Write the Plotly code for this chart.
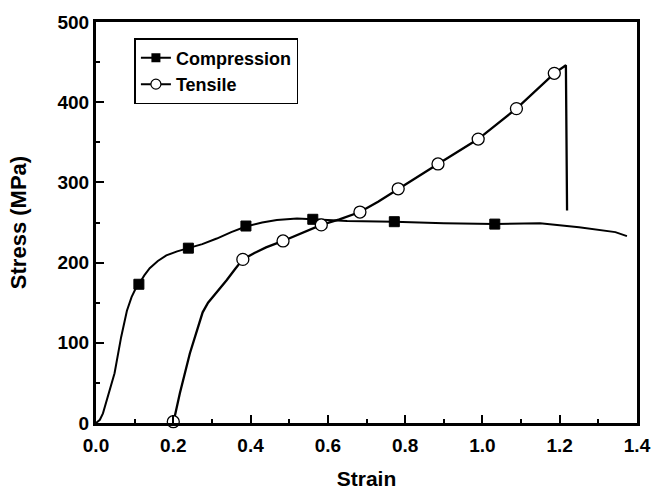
import plotly.graph_objects as go

# Compression curve (strain, stress MPa)
comp_x = [0, 0.01, 0.018, 0.031, 0.048, 0.065, 0.08, 0.092, 0.102, 0.111, 0.125, 0.139,
          0.16, 0.182, 0.21, 0.239, 0.275, 0.3125, 0.35, 0.388, 0.43, 0.468, 0.52, 0.561,
          0.65, 0.772, 0.9, 1.032, 1.149, 1.25, 1.344, 1.374]
comp_y = [0, 4, 12, 33, 62, 107, 140, 157, 167, 173, 184, 193,
          202, 209, 214, 218, 223, 230, 238, 245, 250, 253, 255, 254,
          252, 251, 249, 248, 249, 244, 238, 233]
comp_mx = [0.111, 0.239, 0.388, 0.561, 0.772, 1.032]
comp_my = [173, 218, 245.6, 254, 251, 248]

# Tensile curve
tens_x = [0.2, 0.217, 0.243, 0.262, 0.276, 0.29, 0.304, 0.32, 0.338, 0.36, 0.38, 0.41,
          0.44, 0.484, 0.53, 0.583, 0.63, 0.683, 0.73, 0.782, 0.885, 0.989, 1.088,
          1.186, 1.216, 1.219]
tens_y = [0, 37, 87, 118, 138, 150, 158, 168, 178, 192, 204, 212,
          219, 227, 236, 247, 254, 263, 276, 292, 323, 354, 392,
          436, 446, 265]
tens_mx = [0.2, 0.38, 0.484, 0.583, 0.683, 0.782, 0.885, 0.989, 1.088, 1.186]
tens_my = [1.6, 204, 227, 247, 263, 292, 323, 354, 392, 436]

x_ticks = [0, 0.2, 0.4, 0.6, 0.8, 1.0, 1.2, 1.4]
x_labels = ["0.0", "0.2", "0.4", "0.6", "0.8", "1.0", "1.2", "1.4"]
y_ticks = [0, 100, 200, 300, 400, 500]

FONT = "Liberation Sans"
fig = go.Figure()

fig.add_trace(go.Scatter(x=comp_x, y=comp_y, mode="lines", line=dict(color="black", width=2),
                         showlegend=False, hoverinfo="skip"))
fig.add_trace(go.Scatter(x=tens_x, y=tens_y, mode="lines", line=dict(color="black", width=2.3),
                         showlegend=False, hoverinfo="skip"))
fig.add_trace(go.Scatter(x=comp_mx, y=comp_my, mode="markers", cliponaxis=False,
                         marker=dict(symbol="square", size=10, color="black",
                                     line=dict(color="black", width=1)),
                         showlegend=False))
fig.add_trace(go.Scatter(x=tens_mx, y=tens_my, mode="markers", cliponaxis=False,
                         marker=dict(symbol="circle", size=12, color="white",
                                     line=dict(color="black", width=1.3)),
                         showlegend=False))
# legend entries
fig.add_trace(go.Scatter(x=[None], y=[None], mode="lines+markers", name="Compression",
                         line=dict(color="black", width=2),
                         marker=dict(symbol="square", size=9, color="black")))
fig.add_trace(go.Scatter(x=[None], y=[None], mode="lines+markers", name="Tensile",
                         line=dict(color="black", width=2),
                         marker=dict(symbol="circle", size=10, color="white",
                                     line=dict(color="black", width=1.2))))

axis_common = dict(showgrid=False, zeroline=False, showline=True, linecolor="black",
                   linewidth=3, mirror=True, ticks="inside", tickcolor="black",
                   tickwidth=2, ticklen=8, automargin=False, ticklabeloverflow="allow",
                   tickfont=dict(family=FONT, size=19, color="black", weight="bold"))

fig.update_xaxes(range=[0, 1.4], tickvals=x_ticks, ticktext=x_labels, ticklabelstandoff=3,
                 minor=dict(dtick=0.1, ticks="inside", ticklen=4, tickwidth=2, tickcolor="black"),
                 title=dict(text="Strain", font=dict(family=FONT, size=21, color="black", weight="bold"),
                            standoff=35),
                 **axis_common)
fig.update_yaxes(range=[0, 500], tickvals=y_ticks, ticktext=[str(v) for v in y_ticks],
                 minor=dict(dtick=50, ticks="inside", ticklen=4, tickwidth=2, tickcolor="black"),
                 title=dict(text="Stress (MPa)", font=dict(family=FONT, size=22, color="black", weight="bold"),
                            standoff=25),
                 **axis_common)

fig.update_layout(
    width=651, height=490,
    margin=dict(l=96, r=14, t=22, b=67),
    plot_bgcolor="white", paper_bgcolor="white",
    legend=dict(x=0.071, y=0.96, xanchor="left", yanchor="top",
                bordercolor="black", borderwidth=1.5, bgcolor="white",
                font=dict(family=FONT, size=18, color="black", weight="bold"),
                tracegroupgap=0),
)

# remove the default 8px page margin so the 651x490 figure fills the window exactly
fig.write_html("out.html", config={"displayModeBar": False},
               post_script="document.body.style.margin='0';document.body.style.overflow='hidden';")
